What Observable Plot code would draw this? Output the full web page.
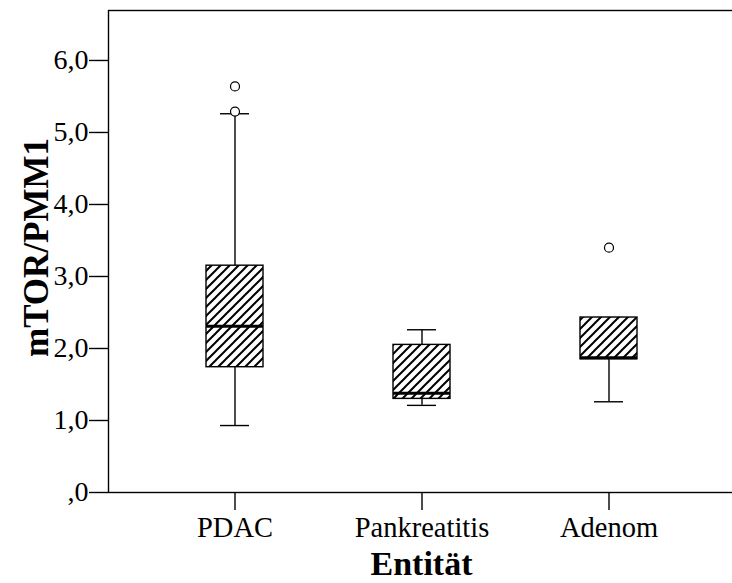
<!DOCTYPE html>
<html><head><meta charset="utf-8">
<script src="https://cdn.jsdelivr.net/npm/d3@7"></script>
<script src="https://cdn.jsdelivr.net/npm/@observablehq/plot@0.6"></script>
<style>
body{margin:0;background:#fff;overflow:hidden}
#chart svg, #chart svg text {font-family: "Liberation Serif", "Times New Roman", serif !important;}
</style>
</head><body><div id="chart"></div>
<script>
const categories = ["PDAC", "Pankreatitis", "Adenom"];
const whiskerLow = [0.93, 1.21, 1.26];
const q1 = [1.74, 1.30, 1.85];
const median = [2.31, 1.38, 1.87];
const q3 = [3.15, 2.05, 2.43];
const whiskerHigh = [5.26, 2.26, 2.43];
const outlierCategory = ["PDAC", "PDAC", "Adenom"];
const outlierValue = [5.64, 5.29, 3.40];
const yTicks = [0, 1, 2, 3, 4, 5, 6];
const yMax = 6.694;

const stats = categories.map((c, i) => ({
  category: c, low: whiskerLow[i], q1: q1[i], median: median[i], q3: q3[i], high: whiskerHigh[i]
}));
const outliers = outlierCategory.map((c, i) => ({category: c, value: outlierValue[i]}));
const fmt = d => d === 0 ? ",0" : d.toFixed(1).replace(".", ",");

const chart = Plot.plot({
  width: 732, height: 583,
  marginLeft: 108, marginRight: -2, marginTop: 10, marginBottom: 91,
  style: {fontSize: "28px", background: "white", color: "black", overflow: "visible"},
  x: {type: "band", domain: categories, paddingInner: 0.696, paddingOuter: 0.517},
  y: {domain: [0, yMax]},
  marks: [
    Plot.frame({stroke: "black", strokeWidth: 1.4}),
    Plot.axisY({ticks: yTicks, tickFormat: fmt, tickSize: 19, tickPadding: 1, label: null, fontSize: 28, strokeWidth: 1.4}),
    Plot.axisX({tickSize: 18, tickPadding: 6, label: null, fontSize: 28.5, strokeWidth: 1.4}),
    Plot.ruleX(stats, {x: "category", y1: "low", y2: "high", stroke: "black", strokeWidth: 1.4}),
    Plot.tickY(stats, {x: "category", y: "low", inset: 14, stroke: "black", strokeWidth: 1.4}),
    Plot.tickY(stats, {x: "category", y: "high", inset: 14, stroke: "black", strokeWidth: 1.4}),
    Plot.barY(stats, {x: "category", y1: "q1", y2: "q3", fill: "url(#hatch)", stroke: "black", strokeWidth: 1.4}),
    Plot.tickY(stats, {x: "category", y: "median", stroke: "black", strokeWidth: 3}),
    Plot.dot(outliers, {x: "category", y: "value", r: 4.5, stroke: "black", fill: "white", strokeWidth: 1.2}),
    Plot.text(["Entität"], {frameAnchor: "bottom", dy: 72, fontWeight: "bold", fontSize: 34, lineAnchor: "middle", textAnchor: "middle"}),
    Plot.text(["mTOR/PMM1"], {frameAnchor: "left", dx: -72, dy: -4, rotate: -90, fontWeight: "bold", fontSize: 35, lineAnchor: "middle", textAnchor: "middle"})
  ]
});

const defs = d3.select(chart).insert("defs", ":first-child");
const pat = defs.append("pattern").attr("id", "hatch").attr("patternUnits", "userSpaceOnUse")
  .attr("width", 9).attr("height", 9);
pat.append("rect").attr("width", 9).attr("height", 9).attr("fill", "white");
pat.append("path").attr("d", "M0,9 L9,0 M-2,2 L2,-2 M7,11 L11,7").attr("stroke", "black").attr("stroke-width", 2);

document.getElementById("chart").appendChild(chart);
</script>
</body></html>
